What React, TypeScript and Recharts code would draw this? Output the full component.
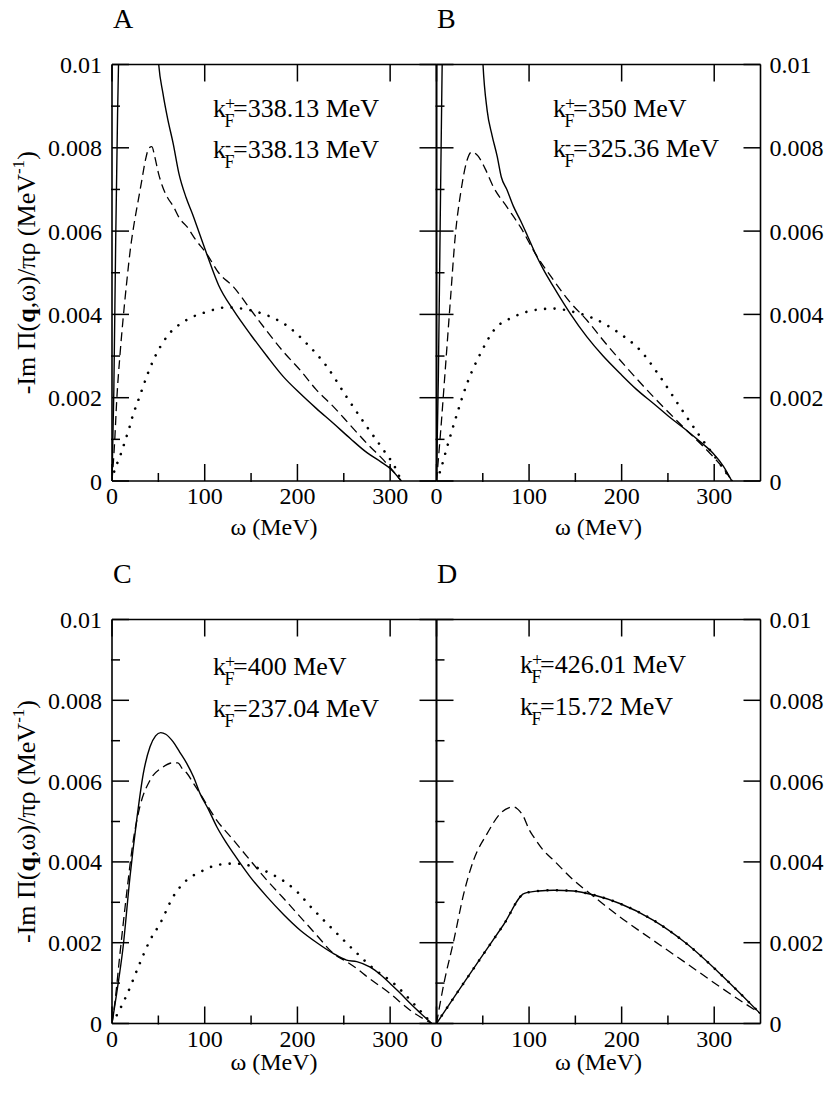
import { LineChart, Line, XAxis, YAxis } from 'recharts'

// omega (MeV), -Im Pi / pi rho (MeV^-1)
const solidA1 = [[0, 0], [2, 0.0022], [4, 0.0058], [6, 0.0088], [7.2, 0.0102], [9, 0.013]]
const solidA2 = [[48, 0.0108], [50, 0.0101], [55, 0.0093], [60, 0.0087], [66, 0.0081], [72, 0.0074], [80, 0.0068], [87, 0.0064], [95, 0.0059], [103, 0.0054], [115, 0.0047], [131, 0.0041], [150, 0.0035], [167, 0.003], [185, 0.0025], [203, 0.0021], [220, 0.00175], [239, 0.00138], [257, 0.00102], [275, 0.00068], [290, 0.00046], [300, 0.0003], [312, 0]]
const dashA = [[0, 0], [3, 0.001], [5, 0.0019], [8.5, 0.003], [12, 0.0039], [16, 0.0048], [20, 0.0056], [24, 0.0062], [28, 0.0067], [32, 0.0072], [36, 0.0077], [40, 0.008], [43, 0.00803], [46, 0.0078], [50, 0.0074], [54, 0.0071], [60, 0.0068], [66, 0.0066], [73, 0.0063], [81, 0.0061], [90, 0.0058], [102, 0.00546], [115, 0.005], [131, 0.00466], [150, 0.0041], [167, 0.0036], [185, 0.0031], [203, 0.00266], [220, 0.0022], [239, 0.00178], [257, 0.00134], [275, 0.0009], [293, 0.0005], [312, 0]]
const dotA = [[0, 0], [3, 0.00028], [7.5, 0.00052], [11.5, 0.00078], [15, 0.00102], [19, 0.0013], [22, 0.00154], [26, 0.0018], [30, 0.00204], [34, 0.0023], [44.6, 0.0029], [59, 0.00346], [80, 0.00386], [102, 0.00406], [124, 0.00417], [145, 0.00412], [167, 0.00398], [188, 0.00374], [210, 0.0033], [232, 0.00274], [253, 0.00202], [275, 0.0013], [293, 0.00074], [305, 0.00034], [312, 0]]

const solidB1 = [[0, 0], [2, 0.0025], [4, 0.0062], [6, 0.0098], [7, 0.0112]]
const solidB2 = [[48, 0.0112], [50, 0.0101], [54.7, 0.0089], [60, 0.0083], [65.5, 0.0078], [70, 0.0073], [76, 0.007], [83, 0.0066], [90.6, 0.00626], [98, 0.0059], [106.8, 0.00546], [115, 0.0051], [126.5, 0.00466], [144.5, 0.00402], [162.5, 0.00346], [180, 0.003], [198.4, 0.00258], [216, 0.0022], [234.4, 0.00186], [252, 0.00153], [270, 0.00122], [285, 0.00094], [299, 0.00066], [310, 0.00035], [319, 0]]
const dashB = [[0, 0], [4.3, 0.00114], [9.7, 0.00274], [15, 0.00434], [20.5, 0.00594], [26, 0.0069], [33, 0.0077], [38, 0.0079], [41, 0.00788], [45, 0.0078], [52.5, 0.0075], [61.5, 0.00706], [76, 0.00658], [90.6, 0.0061], [106.8, 0.00546], [126.5, 0.00482], [144, 0.0043], [162.5, 0.00386], [180, 0.00338], [198.4, 0.0029], [216, 0.00246], [234.4, 0.00202], [252, 0.00162], [270, 0.00122], [285, 0.0009], [299, 0.00058], [310, 0.0003], [319, 0]]
const dotB = [[0, 0], [4.3, 0.00026], [11.5, 0.00082], [22.3, 0.00162], [33, 0.00234], [47.5, 0.00306], [62, 0.00362], [83.5, 0.00394], [105, 0.0041], [126.5, 0.00414], [148, 0.00406], [170, 0.0039], [198, 0.00354], [220, 0.00314], [241.6, 0.0025], [263, 0.00178], [285, 0.00106], [306, 0.00042], [319, 0]]

const solidC = [[0, 0], [5, 0.00074], [12, 0.0019], [19.4, 0.00363], [26.6, 0.00503], [33.8, 0.00619], [41, 0.00685], [47, 0.00712], [52.5, 0.0072], [58, 0.00716], [66, 0.00697], [73, 0.00672], [80.6, 0.00644], [88, 0.0061], [95, 0.00569], [104, 0.0053], [113, 0.00487], [122, 0.00452], [131, 0.00421], [149, 0.00363], [167, 0.00314], [185, 0.0027], [203, 0.00231], [221, 0.002], [239, 0.00173], [253, 0.00157], [264, 0.00153], [278, 0.0014], [290, 0.0012], [300, 0.00099], [311, 0.00075], [321.5, 0.0005], [333, 0.00025], [345, 0]]
const dashC = [[0, 0], [3, 0.0005], [8.6, 0.00173], [15.8, 0.00322], [23, 0.00454], [30, 0.00536], [41, 0.00602], [55, 0.00635], [65, 0.00645], [71, 0.00645], [76, 0.0063], [80.6, 0.0062], [88, 0.00594], [95, 0.00569], [113, 0.00503], [131, 0.00454], [149, 0.00404], [167, 0.00355], [185, 0.0031], [203, 0.00264], [221, 0.00218], [239, 0.00173], [253, 0.00153], [264, 0.00136], [275, 0.00116], [300, 0.00074], [321.5, 0.00033], [345, 0]]
const dotC = [[0, 0], [5, 0.0002], [15.8, 0.0007], [30, 0.00149], [41, 0.00206], [52, 0.00248], [66, 0.00314], [80.6, 0.00355], [95, 0.00375], [113, 0.00392], [131, 0.00396], [153, 0.00388], [174.5, 0.00367], [196, 0.00334], [218, 0.0028], [239, 0.00231], [261, 0.00181], [282, 0.00136], [304, 0.00099], [325, 0.0005], [345, 0]]

const solidD = [[0, 0], [18.7, 0.00064], [47.5, 0.00161], [72.6, 0.00245], [95, 0.00322], [110, 0.00328], [126.5, 0.0033], [148, 0.00328], [170, 0.00318], [198, 0.00297], [234, 0.00256], [270, 0.00198], [306, 0.00124], [330, 0.0007], [349.5, 0.00025]]
const dashD = [[0, 0], [8, 0.00099], [18.7, 0.00206], [29.5, 0.00322], [40, 0.00404], [54.7, 0.0047], [69, 0.0052], [78, 0.00534], [83.5, 0.00536], [88, 0.0053], [94, 0.00512], [100, 0.0048], [105, 0.00462], [115, 0.0043], [126.5, 0.00404], [148, 0.00355], [170, 0.00314], [198, 0.00264], [234, 0.00206], [270, 0.00149], [306, 0.00091], [349.5, 0.00025]]
const dotD = [[0, 0], [18.7, 0.00064], [47.5, 0.00161], [72.6, 0.00245], [95, 0.00322], [110, 0.00328], [126.5, 0.0033], [148, 0.00328], [170, 0.00318], [198, 0.00297], [234, 0.00256], [270, 0.00198], [306, 0.00124], [330, 0.0007], [349.5, 0.00025]]

const xMajor = [0, 100, 200, 300]
const xMinor = [50, 150, 250]
const yMajor = [0, 0.002, 0.004, 0.006, 0.008, 0.01]
const yMinor = [0.001, 0.003, 0.005, 0.007, 0.009]

const FONT = '"Liberation Serif", "Times New Roman", serif'
const W = 830
const H = 1098

const toPts = (arr: number[][]) => arr.map(([w, v]) => ({ w, v }))

type Kind = 'solid' | 'dash' | 'dot'
type Series = { data: number[][]; kind: Kind }

const lineStyle = (kind: Kind) => {
  if (kind === 'dash') return { strokeWidth: 1.3, strokeDasharray: '9 5' }
  if (kind === 'dot') return { strokeWidth: 2.6, strokeDasharray: '0.01 9.5', strokeLinecap: 'round' as const }
  return { strokeWidth: 1.4 }
}

const frame = { stroke: '#000', strokeWidth: 1.6 }
const tickPen = { stroke: '#000', strokeWidth: 1.5 }
const labelStyle = { fill: '#000', fontSize: 24, fontFamily: FONT }
const blank = () => ''

// same axis stack in both layers so the plot areas line up; only the top layer shows it
const renderAxes = (show: boolean, rightLabels: boolean) => {
  const xc: any = { type: 'number', dataKey: 'w', domain: [0, 350], interval: 0, height: 1, allowDataOverflow: true }
  const yc: any = { type: 'number', domain: [0, 0.01], interval: 0, width: 1, allowDataOverflow: true }
  const on = (axisLine: boolean, fmt?: () => string) =>
    show
      ? { tickLine: tickPen, tick: labelStyle, axisLine: axisLine ? frame : false, tickFormatter: fmt }
      : { tickLine: false, tick: false, axisLine: false }
  return [
    <XAxis key="b" xAxisId="b" orientation="bottom" {...xc} ticks={xMajor} tickSize={-17} tickMargin={23} {...on(true)} />,
    <XAxis key="bm" xAxisId="bm" orientation="bottom" {...xc} ticks={xMinor} tickSize={-9} {...on(false, blank)} />,
    <XAxis key="t" xAxisId="t" orientation="top" {...xc} ticks={xMajor} tickSize={-17} {...on(true, blank)} />,
    <YAxis key="l" yAxisId="l" orientation="left" {...yc} ticks={yMajor} tickSize={-17} tickMargin={27} {...on(true, rightLabels ? blank : undefined)} />,
    <YAxis key="lm" yAxisId="lm" orientation="left" {...yc} ticks={yMinor} tickSize={-9} {...on(false, blank)} />,
    <YAxis key="r" yAxisId="r" orientation="right" {...yc} ticks={yMajor} tickSize={-17} tickMargin={26} {...on(true, rightLabels ? undefined : blank)} />,
  ]
}

const renderLine = (s: Series, i: number) => (
  <Line
    key={i}
    xAxisId="b"
    yAxisId="l"
    data={toPts(s.data)}
    dataKey="v"
    type="monotone"
    stroke="#000"
    dot={false}
    activeDot={false}
    isAnimationActive={false}
    {...lineStyle(s.kind)}
  />
)

function Panel({ left, top, width, height, rightLabels, series, front }: {
  left: number; top: number; width: number; height: number; rightLabels: boolean; series: Series[]; front: Series
}) {
  const margin = { left: left - 2, top: top - 1, right: W - left - width - 1, bottom: H - top - height - 2 }
  return (
    <>
      <div style={{ position: 'absolute', left: 0, top: 0 }}>
        <LineChart width={W} height={H} margin={margin}>
          {renderAxes(false, rightLabels)}
          {series.map(renderLine)}
        </LineChart>
      </div>
      <div style={{ position: 'absolute', left: 0, top: 0 }}>
        <LineChart width={W} height={H} margin={margin}>
          {renderAxes(true, rightLabels)}
          {renderLine(front, 0)}
        </LineChart>
      </div>
    </>
  )
}

function KF({ x, y, sign, value }: { x: number; y: number; sign: string; value: string }) {
  return (
    <text x={x} y={y} fontFamily={FONT} fontSize={26} fill="#000">
      k
      <tspan x={x + 12} dy={-7} fontSize={18}>{sign}</tspan>
      <tspan x={x + 11.5} dy={17} fontSize={18}>F</tspan>
      <tspan x={x + 20} dy={-10}>{'=' + value + ' MeV'}</tspan>
    </text>
  )
}

function YLabel({ cy }: { cy: number }) {
  return (
    <text x={35} y={cy} transform={`rotate(-90 35 ${cy})`} textAnchor="middle" fontFamily={FONT} fontSize={26} fill="#000">
      -Im Π(<tspan fontWeight="bold">q</tspan>,ω)/πρ (MeV<tspan fontSize={17} dy={-11}>-1</tspan><tspan dy={11}>)</tspan>
    </text>
  )
}

export default function App() {
  const topRow = { top: 64.5, height: 416.5 }
  const botRow = { top: 619.5, height: 404 }
  return (
    <div style={{ position: 'absolute', left: 0, top: 0, width: W, height: H, background: '#fff' }}>
      <svg width={W} height={H} style={{ position: 'absolute', left: 0, top: 0 }}>
        <g fontFamily={FONT} fontSize={28} fill="#000">
          <text x={113} y={28}>A</text>
          <text x={437} y={28}>B</text>
          <text x={113} y={583}>C</text>
          <text x={437} y={583}>D</text>
        </g>
        <g fontFamily={FONT} fontSize={24} fill="#000" textAnchor="middle">
          <text x={274} y={535}>ω (MeV)</text>
          <text x={598.5} y={535}>ω (MeV)</text>
          <text x={274} y={1070}>ω (MeV)</text>
          <text x={598.5} y={1070}>ω (MeV)</text>
        </g>
        <YLabel cy={272.7} />
        <YLabel cy={821.5} />
        <KF x={213} y={117} sign="+" value="338.13" />
        <KF x={213} y={158} sign="-" value="338.13" />
        <KF x={553} y={117} sign="+" value="350" />
        <KF x={553} y={157} sign="-" value="325.36" />
        <KF x={213} y={675} sign="+" value="400" />
        <KF x={213} y={717} sign="-" value="237.04" />
        <KF x={520} y={673} sign="+" value="426.01" />
        <KF x={520} y={715} sign="-" value="15.72" />
      </svg>
      <Panel left={112} width={324.5} {...topRow} rightLabels={false}
        series={[{ data: solidA1, kind: 'solid' }, { data: solidA2, kind: 'solid' }, { data: dotA, kind: 'dot' }]}
        front={{ data: dashA, kind: 'dash' }} />
      <Panel left={436.5} width={324} {...topRow} rightLabels
        series={[{ data: solidB1, kind: 'solid' }, { data: solidB2, kind: 'solid' }, { data: dotB, kind: 'dot' }]}
        front={{ data: dashB, kind: 'dash' }} />
      <Panel left={112} width={324.5} {...botRow} rightLabels={false}
        series={[{ data: solidC, kind: 'solid' }, { data: dotC, kind: 'dot' }]}
        front={{ data: dashC, kind: 'dash' }} />
      <Panel left={436.5} width={324} {...botRow} rightLabels
        series={[{ data: solidD, kind: 'solid' }, { data: dotD, kind: 'dot' }]}
        front={{ data: dashD, kind: 'dash' }} />
    </div>
  )
}
